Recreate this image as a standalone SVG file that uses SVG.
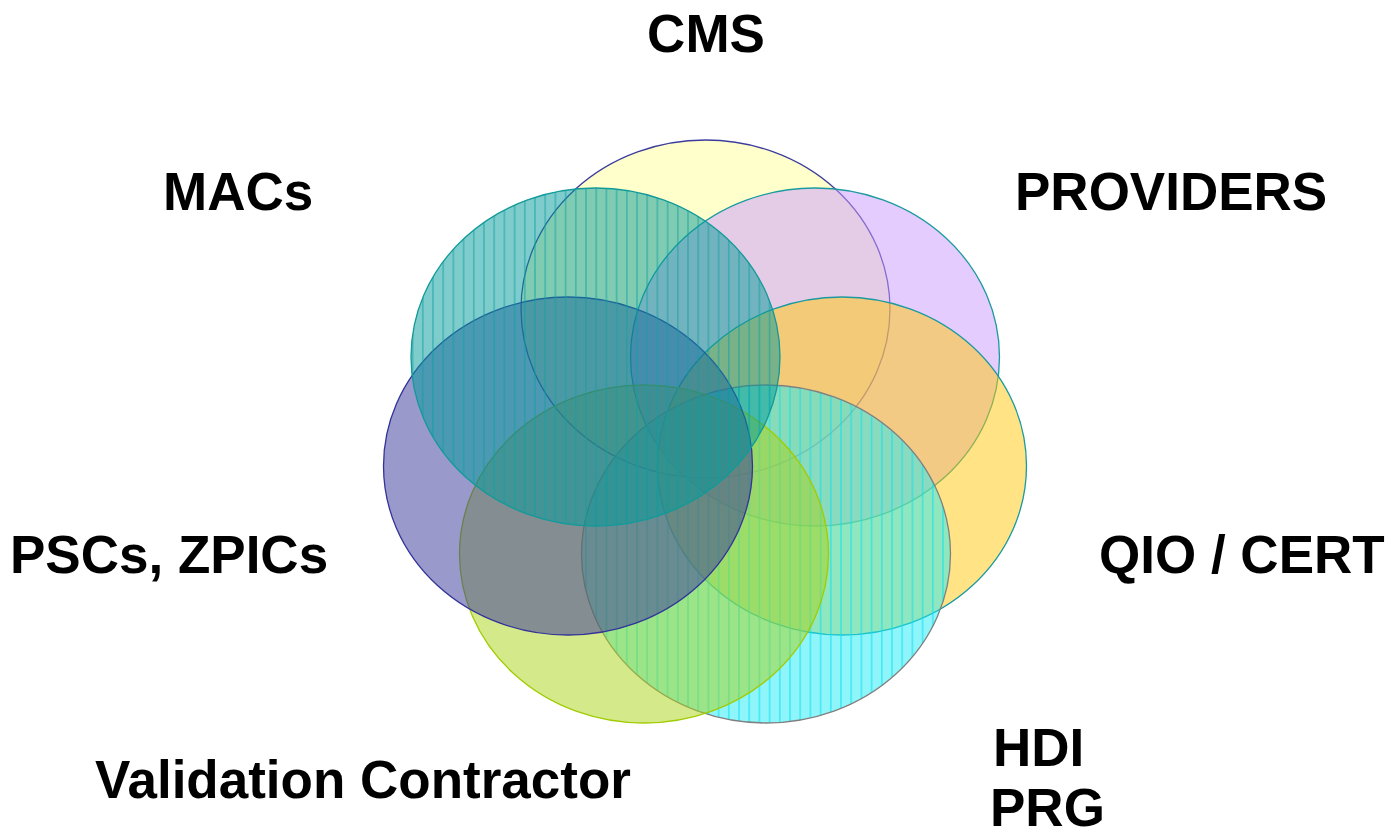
<svg xmlns="http://www.w3.org/2000/svg" width="1389" height="835" viewBox="0 0 1389 835">
<defs>
<pattern id="stripeTeal" patternUnits="userSpaceOnUse" width="10.2" height="10" x="0" y="0">
<rect x="4" y="0" width="1.2" height="10" fill="#12a0a0" fill-opacity="0.7"/>
</pattern>
<pattern id="stripeCyan" patternUnits="userSpaceOnUse" width="10.2" height="10" x="0" y="0">
<rect x="4" y="0" width="1.2" height="10" fill="#10e0f0" fill-opacity="0.8"/>
</pattern>
</defs>
<style>
.c{stroke-width:1.3}
.lbl{font-family:"Liberation Sans",Arial,sans-serif;font-weight:bold;font-size:53px;fill:#000}
</style>
<rect width="1389" height="835" fill="#ffffff"/>
<g id="node-cms">
<ellipse class="c" cx="705.5" cy="309" rx="184.5" ry="169" fill="#ffff99" fill-opacity="0.5" stroke="#3c3c9c"/>
</g>
<g id="node-providers">
<ellipse class="c" cx="815" cy="357" rx="184.5" ry="169" fill="#cc99ff" fill-opacity="0.5" stroke="#1a9aa0"/>
</g>
<g id="node-qio">
<ellipse class="c" cx="842" cy="466" rx="184.5" ry="169" fill="#ffc80a" fill-opacity="0.5" stroke="#1a9aa0"/>
</g>
<g id="node-hdi">
<ellipse cx="766" cy="554" rx="184.5" ry="169" fill="#1debf7" fill-opacity="0.5"/>
<ellipse class="c" cx="766" cy="554" rx="184.5" ry="169" fill="url(#stripeCyan)" stroke="#808080"/>
</g>
<g id="node-validation">
<ellipse class="c" cx="644" cy="554" rx="184.5" ry="169" fill="#aad415" fill-opacity="0.5" stroke="#a0cc00"/>
</g>
<g id="node-psc">
<ellipse class="c" cx="568" cy="466" rx="184.5" ry="169" fill="#333399" fill-opacity="0.5" stroke="#333399"/>
</g>
<g id="node-macs">
<ellipse cx="595.5" cy="357" rx="184.5" ry="169" fill="#009999" fill-opacity="0.5"/>
<ellipse class="c" cx="595.5" cy="357" rx="184.5" ry="169" fill="url(#stripeTeal)" stroke="#129a9a"/>
</g>
<g id="connectors"></g>
<g id="labels">
<text class="lbl" x="706" y="52" text-anchor="middle">CMS</text>
<text class="lbl" x="163" y="210">MACs</text>
<text class="lbl" x="1015" y="210">PROVIDERS</text>
<text class="lbl" x="10" y="573">PSCs, ZPICs</text>
<text class="lbl" x="1099" y="573">QIO / CERT</text>
<text class="lbl" x="95" y="798">Validation Contractor</text>
<text class="lbl" x="993" y="766">HDI</text>
<text class="lbl" x="990" y="826">PRG</text>
</g>
</svg>
